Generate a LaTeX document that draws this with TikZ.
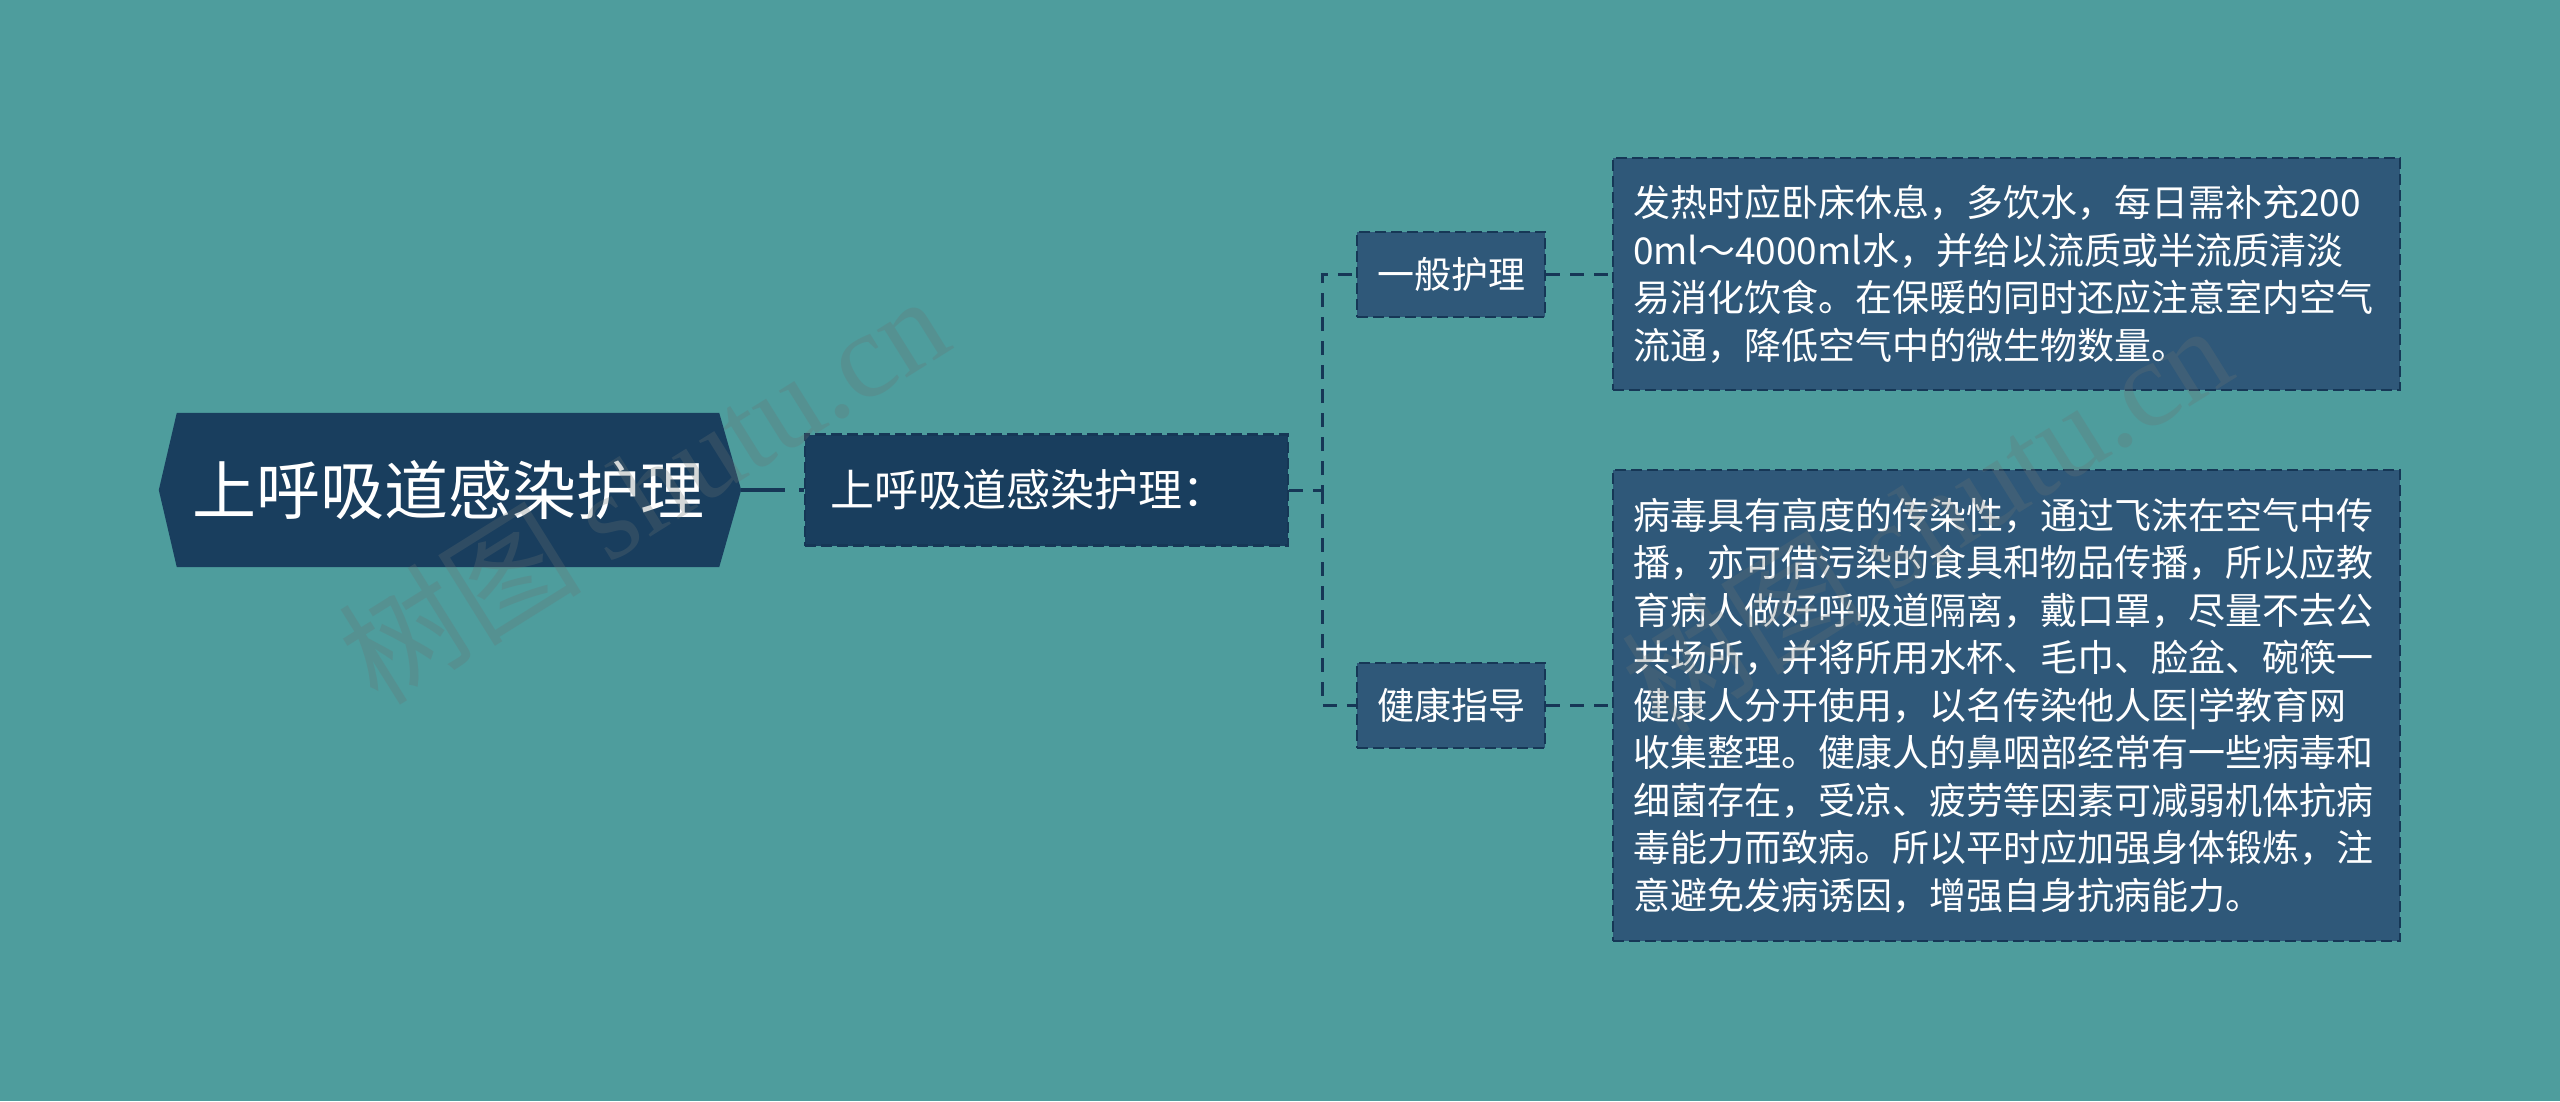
\documentclass[tikz,border=0pt]{standalone}
\usepackage{fontspec}
\setmainfont{Noto Sans CJK SC}
\newfontfamily\wmfont{Liberation Serif}
\usetikzlibrary{calc,backgrounds}
\definecolor{bgteal}{RGB}{78,157,157}
\definecolor{navy}{RGB}{25,62,94}
\definecolor{slate}{RGB}{47,88,121}
\definecolor{edgecol}{RGB}{22,55,86}
\definecolor{wmgray}{RGB}{105,115,115}
\begin{document}
\begin{tikzpicture}[x=1pt,y=-1pt,
  rootnode/.style={inner sep=0pt, minimum width=542pt, minimum height=154pt,
    text=white, font=\fontsize{64}{70}\selectfont},
  dashborder/.style={draw=edgecol, line width=2.5pt, dash pattern=on 11pt off 5pt},
  mainnode/.style={dashborder, fill=navy, minimum height=111pt, inner ysep=0pt,
    inner xsep=25pt, text width=433pt, align=left, text=white,
    font=\fontsize{44}{50}\selectfont},
  subnode/.style={dashborder, fill=slate, minimum width=188pt, minimum height=85pt,
    inner sep=0pt, text=white, font=\fontsize{37}{42}\selectfont},
  leafnode/.style={dashborder, fill=slate, inner xsep=20pt, inner ysep=0pt,
    text width=747pt, align=left, text=white,
    font=\fontsize{37}{47.5}\selectfont},
  conn/.style={draw=edgecol, line width=3pt, dash pattern=on 14pt off 10pt},
  rootconn/.style={draw=edgecol, line width=4pt, dash pattern=on 44pt off 14pt},
  wmstyle/.style={text=wmgray, text opacity=0.28, inner sep=0pt,
    font=\fontsize{122}{128}\selectfont}
]
\useasboundingbox (0,0) rectangle (2560,1101);

% nodes
\node[rootnode] (root) at (448,490) {上呼吸道感染护理};
\node[mainnode] (main) at (1046.5,490) {上呼吸道感染护理：};
\node[subnode] (gen) at (1451,274.5) {一般护理};
\node[subnode] (health) at (1451,705.5) {健康指导};
\node[leafnode, minimum height=232pt] (leafA) at (2006.5,274) {发热时应卧床休息，多饮水，每日需补充200\\0ml～4000ml水，并给以流质或半流质清淡\\易消化饮食。在保暖的同时还应注意室内空气\\流通，降低空气中的微生物数量。};
\node[leafnode, minimum height=471pt] (leafB) at (2006.5,705.5) {病毒具有高度的传染性，通过飞沫在空气中传\\播，亦可借污染的食具和物品传播，所以应教\\育病人做好呼吸道隔离，戴口罩，尽量不去公\\共场所，并将所用水杯、毛巾、脸盆、碗筷一\\健康人分开使用，以名传染他人医|学教育网\\收集整理。健康人的鼻咽部经常有一些病毒和\\细菌存在，受凉、疲劳等因素可减弱机体抗病\\毒能力而致病。所以平时应加强身体锻炼，注\\意避免发病诱因，增强自身抗病能力。};

% background and hexagon
\begin{scope}[on background layer]
  \fill[bgteal] (0,0) rectangle (2560,1101);
  \fill[navy] (root.north west) -- (root.north east) -- ($(root.east)+(22,0)$)
    -- (root.south east) -- (root.south west) -- ($(root.west)+(-18,0)$) -- cycle;
  \draw[rootconn] ($(root.east)+(22,0)$) -- (main.west);
  \draw[conn] (main.east) -- ++(33,0) coordinate (fork) |- (gen.west);
  \draw[conn] (fork) |- (health.west);
  \draw[conn] (gen.east) -- (gen.east -| leafA.west);
  \draw[conn] (health.east) -- (health.east -| leafB.west);
\end{scope}

% watermarks
\node[wmstyle, rotate=32, anchor=base west] (wmA) at (378,708) {树图 {\wmfont shutu.cn}};
\node[wmstyle, rotate=32, anchor=base west] (wmB) at (1661,737) {树图 {\wmfont shutu.cn}};
\end{tikzpicture}
\end{document}
